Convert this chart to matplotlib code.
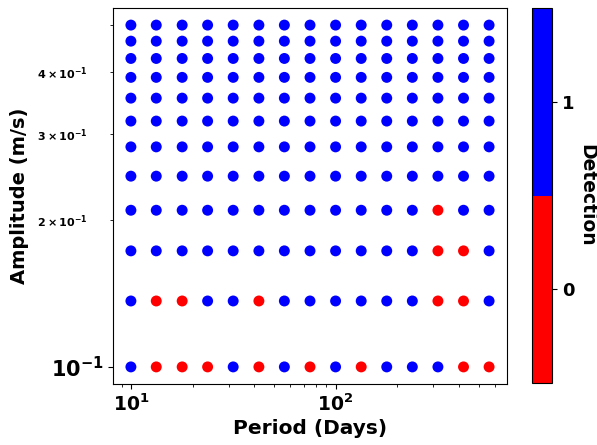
import numpy as np
import matplotlib
matplotlib.use("Agg")
import matplotlib.pyplot as plt
from matplotlib.colors import ListedColormap

plt.rcParams["font.weight"] = "bold"

# grid of injected signals
periods = [10.0, 13.3, 17.8, 23.7, 31.6, 42.2, 56.2, 75.0,
           100.0, 133.4, 177.8, 237.1, 316.2, 421.7, 562.3]
amplitudes = [0.1, 0.1364, 0.1727, 0.2091, 0.2455, 0.2818,
              0.3182, 0.3545, 0.3909, 0.4273, 0.4636, 0.5]

# 1 = recovered, 0 = missed; one row per amplitude (lowest first)
detection = [
    [1, 0, 0, 0, 1, 0, 1, 0, 1, 0, 1, 1, 1, 0, 0],
    [1, 0, 0, 1, 1, 0, 1, 1, 1, 1, 1, 1, 0, 0, 1],
    [1, 1, 1, 1, 1, 1, 1, 1, 1, 1, 1, 1, 0, 0, 1],
    [1, 1, 1, 1, 1, 1, 1, 1, 1, 1, 1, 1, 0, 1, 1],
    [1] * 15,
    [1] * 15,
    [1] * 15,
    [1] * 15,
    [1] * 15,
    [1] * 15,
    [1] * 15,
    [1] * 15,
]

P, A = np.meshgrid(periods, amplitudes)
D = np.array(detection)

fig = plt.figure(figsize=(5.97, 4.45), dpi=100)
ax = fig.add_axes([113 / 597, 1 - 384 / 445, 394 / 597, 376 / 445])
cax = fig.add_axes([532 / 597, 1 - 383 / 445, 20 / 597, 375 / 445])

cmap = ListedColormap(["red", "blue"])
sc = ax.scatter(P.ravel(), A.ravel(), c=D.ravel(), cmap=cmap,
                vmin=-0.5, vmax=1.5, s=62, edgecolors="none")
ax.set_xscale("log")
ax.set_yscale("log")

ax.set_xlabel("Period (Days)", fontsize=14.5, fontweight="bold", labelpad=3)
ax.set_ylabel("Amplitude (m/s)", fontsize=14, fontweight="bold", labelpad=6)
ax.tick_params(axis="x", which="major", labelsize=13.5)
ax.tick_params(axis="y", which="major", labelsize=15)
ax.tick_params(axis="y", which="minor", labelsize=8, pad=16)

cb = fig.colorbar(sc, cax=cax, ticks=[0, 1])
cb.ax.set_yticklabels(["0", "1"], fontsize=13, fontweight="bold")
cb.set_label("Detection", rotation=270, labelpad=16,
             fontsize=13.5, fontweight="bold")

fig.savefig("out.png", dpi=100)
